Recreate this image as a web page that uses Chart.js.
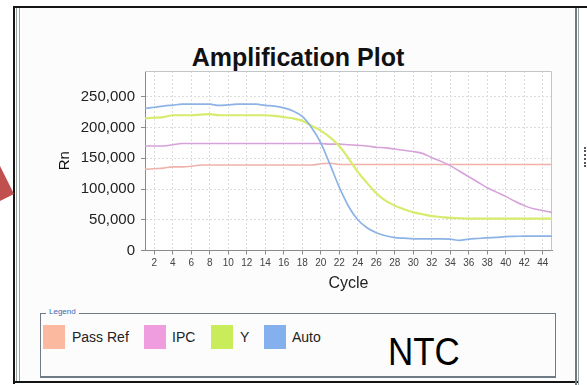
<!DOCTYPE html>
<html>
<head>
<meta charset="utf-8">
<script src="https://cdn.jsdelivr.net/npm/chart.js@4.4.1/dist/chart.umd.min.js"></script>
<style>
  html, body { margin: 0; padding: 0; background: #fff; }
  body { width: 587px; height: 385px; position: relative; overflow: hidden; font-family: "Liberation Sans", Arial, sans-serif; }
  .abs { position: absolute; }
  #panel { left: 21px; top: 8px; width: 554px; height: 373px; background: #fcfcfc; }
  .blk { background: #141414; }
  .gry { background: #98a3a3; }
  #title { left: 21px; top: 43px; width: 554px; text-align: center; font-weight: bold; font-size: 25px; line-height: 28px; color: #111; }
  #legendBox { left: 40px; top: 313px; width: 516px; height: 65px; border: 1px solid #6f7c88; border-bottom-width: 2px; box-sizing: border-box; }
  #legendTag { left: 46px; top: 307px; font-size: 8px; line-height: 10px; color: #3c68b0; background: #fcfcfc; padding: 0 3px; }
  .sw { width: 22px; height: 24px; top: 325px; }
  .lt { top: 329px; font-size: 14px; line-height: 16px; color: #222; }
  #ntc { left: 388px; top: 333px; font-size: 38px; line-height: 38px; color: #000; transform: scaleX(0.92); transform-origin: left top; }
  #arrow { left: 0; top: 0; width: 15px; height: 385px; }
  canvas { position: absolute; left: 0; top: 0; }
</style>
</head>
<body>
<div class="abs" id="panel"></div>
<div class="abs blk" style="left:13px;top:6px;width:574px;height:2px"></div>
<div class="abs blk" style="left:13px;top:6px;width:2px;height:378px"></div>
<div class="abs blk" style="left:13px;top:381px;width:566px;height:2px"></div>
<div class="abs gry" style="left:16px;top:8px;width:1px;height:373px"></div>
<div class="abs gry" style="left:19px;top:8px;width:1px;height:373px"></div>
<div class="abs" style="left:575px;top:8px;width:2px;height:377px;background:#6f7b7b"></div>
<div class="abs gry" style="left:578px;top:8px;width:1px;height:377px"></div>
<div class="abs" style="left:584px;top:147px;width:0;height:20px;border-left:2px dotted #555"></div>
<svg class="abs" id="arrow"><polygon points="0,166 14,194 0,201" fill="#c0504d"/></svg>

<div class="abs" id="title">Amplification Plot</div>

<div class="abs" id="legendBox"></div>
<div class="abs" id="legendTag">Legend</div>
<div class="abs sw" style="left:43px;background:#fbb9a0"></div>
<div class="abs lt" style="left:72px">Pass Ref</div>
<div class="abs sw" style="left:144px;background:#f09de0"></div>
<div class="abs lt" style="left:172px">IPC</div>
<div class="abs sw" style="left:211px;background:#c9ec5a"></div>
<div class="abs lt" style="left:240px">Y</div>
<div class="abs sw" style="left:264px;background:#84b1ee"></div>
<div class="abs lt" style="left:292px">Auto</div>
<div class="abs" id="ntc">NTC</div>

<canvas id="amplificationChart" width="587" height="385"></canvas>

<script>
// cycle numbers
const cycles = [1, 2, 3, 4, 5, 6, 7, 8, 9, 10, 11, 12, 13, 14, 15, 16, 17, 18, 19, 20, 21, 22, 23,
  24, 25, 26, 27, 28, 29, 30, 31, 32, 33, 34, 35, 36, 37, 38, 39, 40, 41, 42, 43, 44, 45]

// Rn values per cycle
const passRef = [132000, 133000, 134000, 136000, 136000, 137000, 139000, 139000, 139000, 139000,
  139000, 139000, 139000, 139000, 139000, 139000, 139000, 139000, 139000, 141000,
  142000, 140000, 140000, 140000, 140000, 140000, 140000, 140000, 140000, 140000,
  140000, 140000, 140000, 140000, 140000, 140000, 140000, 140000, 140000, 140000,
  140000, 140000, 140000, 140000, 140000]
const ipc = [170000, 170000, 170000, 172000, 174000, 174000, 174000, 174000, 174000, 174000,
  174000, 174000, 174000, 174000, 174000, 174000, 174000, 174000, 174000, 174000,
  173000, 173000, 172000, 171000, 170000, 168000, 167000, 165000, 163000, 161000,
  158000, 151000, 145000, 138000, 129000, 120000, 111000, 102000, 95000, 88000,
  80000, 73000, 68000, 65000, 62000]
const yTarget = [215000, 216000, 217000, 220000, 220000, 220000, 221000, 222000, 220000, 220000,
  220000, 220000, 220000, 220000, 219000, 217000, 215000, 211000, 203000, 195000,
  184000, 170000, 150000, 128000, 110000, 93000, 81000, 73000, 67000, 62000,
  59000, 56000, 54500, 53000, 52500, 52000, 52000, 52000, 52000, 52000,
  52000, 52000, 52000, 52000, 52000]
const auto = [231000, 233000, 235000, 236500, 238000, 238000, 238000, 238000, 236000, 237000,
  238000, 238000, 238000, 236000, 235000, 232000, 227000, 218000, 200000, 175000,
  140000, 103000, 72000, 50000, 37000, 29000, 24000, 21000, 20000, 19000,
  19000, 19000, 19000, 18500, 16500, 18500, 19500, 20500, 21500, 22500,
  23000, 23500, 23500, 23500, 23500]

const xTicks = [2, 4, 6, 8, 10, 12, 14, 16, 18, 20, 22, 24, 26, 28, 30, 32, 34, 36, 38, 40, 42, 44]
const yTicks = [0, 50000, 100000, 150000, 200000, 250000]

const toPoints = (vals) => vals.map((v, i) => ({ x: cycles[i], y: v }))

const plotFrame = {
  id: 'plotFrame',
  beforeDraw(chart) {
    const { ctx, chartArea: a } = chart
    ctx.save()
    ctx.fillStyle = '#ffffff'
    ctx.fillRect(a.left, a.top, a.right - a.left, a.bottom - a.top)
    ctx.restore()
  },
  beforeDatasetsDraw(chart) {
    const { ctx, chartArea: a } = chart
    ctx.save()
    ctx.strokeStyle = '#c2c6c6'
    ctx.lineWidth = 1
    ctx.beginPath()
    ctx.moveTo(a.left, a.top + 0.5)
    ctx.lineTo(a.right - 0.5, a.top + 0.5)
    ctx.lineTo(a.right - 0.5, a.bottom)
    ctx.stroke()
    ctx.restore()
  }
}

const line = (label, vals, color, width) => ({
  label,
  data: toPoints(vals),
  borderColor: color,
  borderWidth: width,
  pointRadius: 0,
  cubicInterpolationMode: 'monotone',
  fill: false
})

new Chart(document.getElementById('amplificationChart'), {
  type: 'line',
  data: {
    datasets: [
      line('Auto', auto, '#8db3e6', 1.7),
      line('Y', yTarget, '#d6ec6c', 2.2),
      line('IPC', ipc, '#d6a2da', 1.6),
      line('Pass Ref', passRef, '#efb2aa', 1.6)
    ]
  },
  options: {
    responsive: false,
    animation: false,
    layout: { padding: { left: 55, right: 35, top: 71, bottom: 84.5 } },
    plugins: { legend: { display: false }, tooltip: { enabled: false } },
    scales: {
      x: {
        type: 'linear',
        min: 1,
        max: 45,
        afterBuildTicks: (scale) => { scale.ticks = xTicks.map(v => ({ value: v })) },
        afterFit: (scale) => { scale.height = 50 },
        ticks: { autoSkip: false, maxRotation: 0, padding: 3, color: '#444', font: { family: 'Liberation Sans', size: 10 } },
        grid: { color: '#dcdcdc', tickLength: 4, tickColor: '#8a8a8a' },
        border: { color: '#8a8a8a', dash: [2, 2] },
        title: { display: true, text: 'Cycle', color: '#222', padding: { top: 0, bottom: 7 }, font: { family: 'Liberation Sans', size: 16 } }
      },
      y: {
        min: 0,
        max: 292000,
        afterBuildTicks: (scale) => { scale.ticks = yTicks.map(v => ({ value: v })) },
        afterFit: (scale) => { scale.width = 90 },
        ticks: { autoSkip: false, padding: 6, color: '#222', font: { family: 'Liberation Sans', size: 15 },
          callback: (v) => v.toLocaleString('en-US') },
        grid: { color: '#dcdcdc', tickLength: 4, tickColor: '#8a8a8a' },
        border: { color: '#8a8a8a', dash: [2, 2] },
        title: { display: true, text: 'Rn', color: '#111', padding: { top: 1, bottom: 0 }, font: { family: 'Liberation Sans', size: 15 } }
      }
    }
  },
  plugins: [plotFrame]
})
</script>
</body>
</html>
